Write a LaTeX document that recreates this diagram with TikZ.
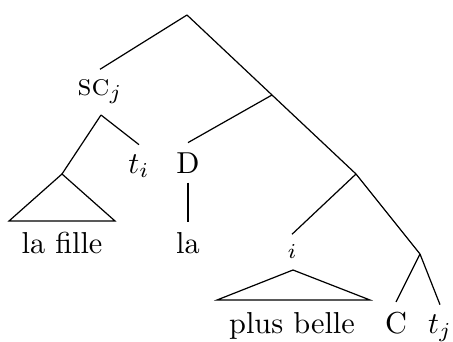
\documentclass[tikz,border=0pt]{standalone}
\usepackage{amsmath}
\usepackage{tikz}

\begin{document}
\begin{tikzpicture}[
        x=0.33pt, y=-0.33pt,
        word/.style={anchor=base, inner sep=3pt},
        branch/.style={line width=0.4pt}
    ]
        \useasboundingbox (0,0) rectangle (453,341);

        \coordinate (top) at (187,15);
        \coordinate (a) at (272,95);
        \coordinate (b) at (356,174);
        \coordinate (c) at (420,254);
        \coordinate (scb) at (101,115);
        \coordinate (apex1) at (62,174);
        \coordinate (left1) at (9,221);
        \coordinate (right1) at (115,221);
        \coordinate (apex2) at (293,270);
        \coordinate (left2) at (217,300);
        \coordinate (right2) at (370,300);

        \node[word] (sc) at (100,95) {\textsc{sc}$_j$};
        \node[word] (ti) at (139,173) {$t_i$};
        \node[word] (det) at (188,173) {D};
        \node[word] (la) at (188,253) {la};
        \node[word] (fille) at (62,253) {la fille};
        \node[word] (idx) at (292,258) {$\scriptstyle i$};
        \node[word] (belle) at (292,333) {plus belle};
        \node[word] (comp) at (396,333) {C};
        \node[word] (tj) at (440,333) {$t_j$};

        \draw[branch] (top) -- (sc.north);
        \draw[branch] (top) -- (a);
        \draw[branch] (a) -- (det.north);
        \draw[branch] (a) -- (b);
        \draw[branch] (b) -- (idx.north);
        \draw[branch] (b) -- (c);
        \draw[branch] (c) -- (comp.north);
        \draw[branch] (c) -- (tj.north);
        \draw[branch] (scb) -- (apex1);
        \draw[branch] (scb) -- (ti.north);
        \draw[branch] (det.south) -- (la.north);
        \draw[branch] (apex1) -- (left1) -- (right1) -- cycle;
        \draw[branch] (apex2) -- (left2) -- (right2) -- cycle;
    \end{tikzpicture}
\end{document}
